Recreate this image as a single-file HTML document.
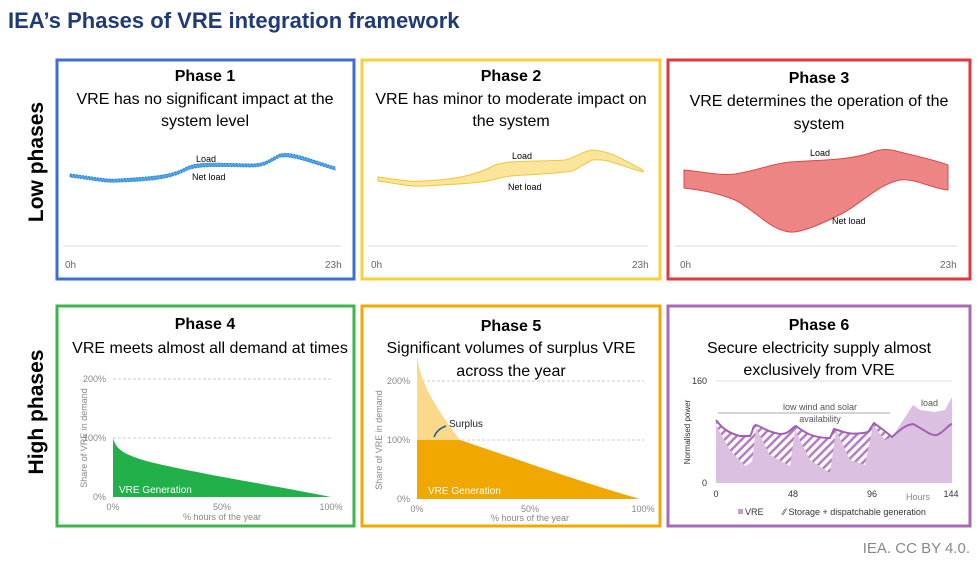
<!DOCTYPE html>
<html><head><meta charset="utf-8"><style>
body{margin:0;background:#fff;width:977px;height:564px;overflow:hidden;font-family:"Liberation Sans",sans-serif}
</style></head><body>
<svg width="977" height="564" viewBox="0 0 977 564" xmlns="http://www.w3.org/2000/svg" font-family="Liberation Sans, sans-serif">
<defs>
<pattern id="h" width="6" height="6" patternUnits="userSpaceOnUse" patternTransform="rotate(45)">
<rect width="6" height="6" fill="#fff"/><rect width="2.5" height="6" fill="#b57cc3"/></pattern>
</defs>
<text x="8" y="28" font-size="22" font-weight="bold" fill="#1f3b75">IEA’s Phases of VRE integration framework</text>
<text transform="translate(43,162) rotate(-90)" text-anchor="middle" font-size="21" font-weight="bold">Low phases</text>
<text transform="translate(43,412) rotate(-90)" text-anchor="middle" font-size="21" font-weight="bold">High phases</text>
<text x="970" y="553" text-anchor="end" font-size="15" fill="#888">IEA. CC BY 4.0.</text>

<rect x="57" y="60" width="297" height="219" fill="none" stroke="#3d6fd3" stroke-width="3"/>
<rect x="362" y="60" width="298" height="219" fill="none" stroke="#f9cf3b" stroke-width="3"/>
<rect x="668" y="60" width="302" height="219" fill="none" stroke="#e0383e" stroke-width="3"/>
<rect x="57" y="306" width="297" height="220" fill="none" stroke="#3cb64a" stroke-width="3"/>
<rect x="362" y="306" width="298" height="220" fill="none" stroke="#f2a900" stroke-width="3"/>
<rect x="668" y="306" width="302" height="220" fill="none" stroke="#a869b6" stroke-width="3"/>

<g font-size="16" text-anchor="middle" fill="#000">
<text x="205" y="81" font-weight="bold">Phase 1</text>
<text x="205" y="104">VRE has no significant impact at the</text>
<text x="205" y="126">system level</text>
<text x="511" y="81" font-weight="bold">Phase 2</text>
<text x="511" y="104">VRE has minor to moderate impact on</text>
<text x="511" y="126">the system</text>
<text x="819" y="83" font-weight="bold">Phase 3</text>
<text x="819" y="106">VRE determines the operation of the</text>
<text x="819" y="129">system</text>
<text x="205" y="329" font-weight="bold">Phase 4</text>
<text x="210" y="353">VRE meets almost all demand at times</text>
<text x="511" y="331" font-weight="bold">Phase 5</text>
<text x="511" y="353">Significant volumes of surplus VRE</text>
<text x="511" y="376">across the year</text>
<text x="819" y="330" font-weight="bold">Phase 6</text>
<text x="819" y="353">Secure electricity supply almost</text>
<text x="819" y="375">exclusively from VRE</text>
</g>

<!-- Phase 1 -->
<line x1="63" y1="246" x2="341" y2="246" stroke="#ddd"/>
<path d="M70,174 C95,177 105,180 118,179 C150,177 170,176 185,168 C195,162 210,163 250,164 C265,164 268,160 280,154 C292,152 300,156 335,167 L335,170 C300,159 292,156 280,157 C268,163 265,167 250,167 C210,166 195,166 185,171 C170,179 150,181 118,182 C105,183 95,180 70,177 Z" fill="#4ba3ea" stroke="#2f7fd0" stroke-dasharray="2 1"/>
<text x="196" y="162" font-size="9">Load</text>
<text x="192" y="180" font-size="9">Net load</text>
<text x="65" y="268" font-size="10" fill="#666">0h</text>
<text x="325" y="268" font-size="10" fill="#666">23h</text>

<!-- Phase 2 -->
<line x1="368" y1="246" x2="648" y2="246" stroke="#ddd"/>
<path d="M378,177 C400,180 410,182 425,181 C455,179 475,176 495,165 C510,160 530,162 565,160 C575,158 580,152 592,150 C610,151 620,158 643,170 L643,172 C620,166 608,158 592,160 C580,166 575,172 565,172 C530,176 515,174 500,178 C480,184 455,184 425,186 C410,187 400,184 378,181 Z" fill="#fbe59a" stroke="#efc540"/>
<text x="512" y="159" font-size="9">Load</text>
<text x="508" y="190" font-size="9">Net load</text>
<text x="371" y="268" font-size="10" fill="#666">0h</text>
<text x="632" y="268" font-size="10" fill="#666">23h</text>

<!-- Phase 3 -->
<line x1="675" y1="246" x2="957" y2="246" stroke="#ddd"/>
<path d="M684,170 C705,172 720,176 735,174 C760,170 770,164 790,162 C820,160 850,160 870,153 C880,149 888,148 900,152 C920,157 935,160 948,165 L948,190 C930,188 915,178 900,180 C880,184 865,200 845,212 C820,225 800,233 790,232 C770,230 755,210 735,200 C715,192 700,190 684,188 Z" fill="#ee8585" stroke="#d94a4a"/>
<text x="810" y="156" font-size="9">Load</text>
<text x="832" y="224" font-size="9">Net load</text>
<text x="680" y="268" font-size="10" fill="#666">0h</text>
<text x="940" y="268" font-size="10" fill="#666">23h</text>

<!-- Phase 4 -->
<g font-size="9" fill="#888">
<line x1="113" y1="379" x2="331" y2="379" stroke="#ccc" stroke-dasharray="3 2"/>
<line x1="113" y1="438" x2="331" y2="438" stroke="#ccc" stroke-dasharray="3 2"/>
<text x="106" y="382" text-anchor="end">200%</text>
<text x="106" y="441" text-anchor="end">100%</text>
<text x="106" y="500" text-anchor="end">0%</text>
<text transform="translate(87,438) rotate(-90)" text-anchor="middle">Share of VRE in demand</text>
<text x="113" y="510" text-anchor="middle">0%</text>
<text x="222" y="510" text-anchor="middle">50%</text>
<text x="331" y="510" text-anchor="middle">100%</text>
<text x="222" y="520" text-anchor="middle">% hours of the year</text>
</g>
<path d="M113,438 C116,450 125,455 150,462 C200,474 260,483 331,497 L113,497 Z" fill="#22b04b"/>
<text x="119" y="493" font-size="10" fill="#fff">VRE Generation</text>

<!-- Phase 5 -->
<g font-size="9" fill="#888">
<line x1="417" y1="381" x2="644" y2="381" stroke="#ccc" stroke-dasharray="3 2"/>
<line x1="417" y1="440" x2="644" y2="440" stroke="#ccc" stroke-dasharray="3 2"/>
<text x="410" y="384" text-anchor="end">200%</text>
<text x="410" y="443" text-anchor="end">100%</text>
<text x="410" y="502" text-anchor="end">0%</text>
<text transform="translate(382,440) rotate(-90)" text-anchor="middle">Share of VRE in demand</text>
<text x="417" y="512" text-anchor="middle">0%</text>
<text x="530" y="512" text-anchor="middle">50%</text>
<text x="643" y="512" text-anchor="middle">100%</text>
<text x="530" y="521" text-anchor="middle">% hours of the year</text>
</g>
<path d="M417,355 C420,380 430,400 460,440 L417,440 Z" fill="#fbd88a"/>
<path d="M417,440 L460,440 C520,460 580,482 640,499 L417,499 Z" fill="#f0a800"/>
<path d="M446,426 C440,428 436,432 434,437" fill="none" stroke="#1f5f8f" stroke-width="1.5"/>
<text x="449" y="427" font-size="10" fill="#222">Surplus</text>
<text x="428" y="494" font-size="10" fill="#fff">VRE Generation</text>

<!-- Phase 6 -->
<line x1="716" y1="381" x2="952" y2="381" stroke="#ddd"/>
<path d="M716,420 C722,428 728,433 740,436 L750,436 C754,430 752,426 756,425 C764,428 768,432 780,434 C790,434 792,427 796,426 C804,432 812,438 830,438 L834,429 C845,432 850,436 868,432 L874,423 L886,432 L892,437 C900,430 905,425 913,424 C925,430 930,436 937,435 C944,432 948,425 952,424 L952,483 L716,483 Z" fill="url(#h)"/>
<path d="M716,425 L730,450 L745,466 L752,462 L756,428 L770,455 L790,466 L795,430 L810,460 L830,473 L836,430 L850,460 L865,465 L873,425 L885,440 L892,437 L900,425 L913,405 L920,410 L935,412 L945,410 L952,397 L952,483 L716,483 Z" fill="#dcc0e2"/>
<path d="M716,420 C722,428 728,433 740,436 L750,436 C754,430 752,426 756,425 C764,428 768,432 780,434 C790,434 792,427 796,426 C804,432 812,438 830,438 L834,429 C845,432 850,436 868,432 L874,423 L886,432 L892,437 C900,430 905,425 913,424 C925,430 930,436 937,435 C944,432 948,425 952,424" fill="none" stroke="#a35fb2" stroke-width="2"/>
<line x1="718" y1="413" x2="890" y2="413" stroke="#aaa"/>
<text x="820" y="410" font-size="9" fill="#555" text-anchor="middle">low wind and solar</text>
<text x="820" y="422" font-size="9" fill="#555" text-anchor="middle">availability</text>
<text x="921" y="406" font-size="9" fill="#555">load</text>
<g font-size="9" fill="#333">
<text x="707" y="384" text-anchor="end">160</text>
<text x="707" y="486" text-anchor="end">0</text>
<text transform="translate(690,432) rotate(-90)" text-anchor="middle" font-size="8">Normalised power</text>
<text x="716" y="497" text-anchor="middle">0</text>
<text x="793" y="497" text-anchor="middle">48</text>
<text x="872" y="497" text-anchor="middle">96</text>
<text x="951" y="497" text-anchor="middle">144</text>
<text x="906" y="500" fill="#888">Hours</text>
<rect x="738" y="509" width="5" height="5" fill="#c79ad0"/>
<text x="745" y="515">VRE</text>
<text x="783" y="515">⁄⁄ Storage + dispatchable generation</text>
</g>
</svg>
</body></html>
